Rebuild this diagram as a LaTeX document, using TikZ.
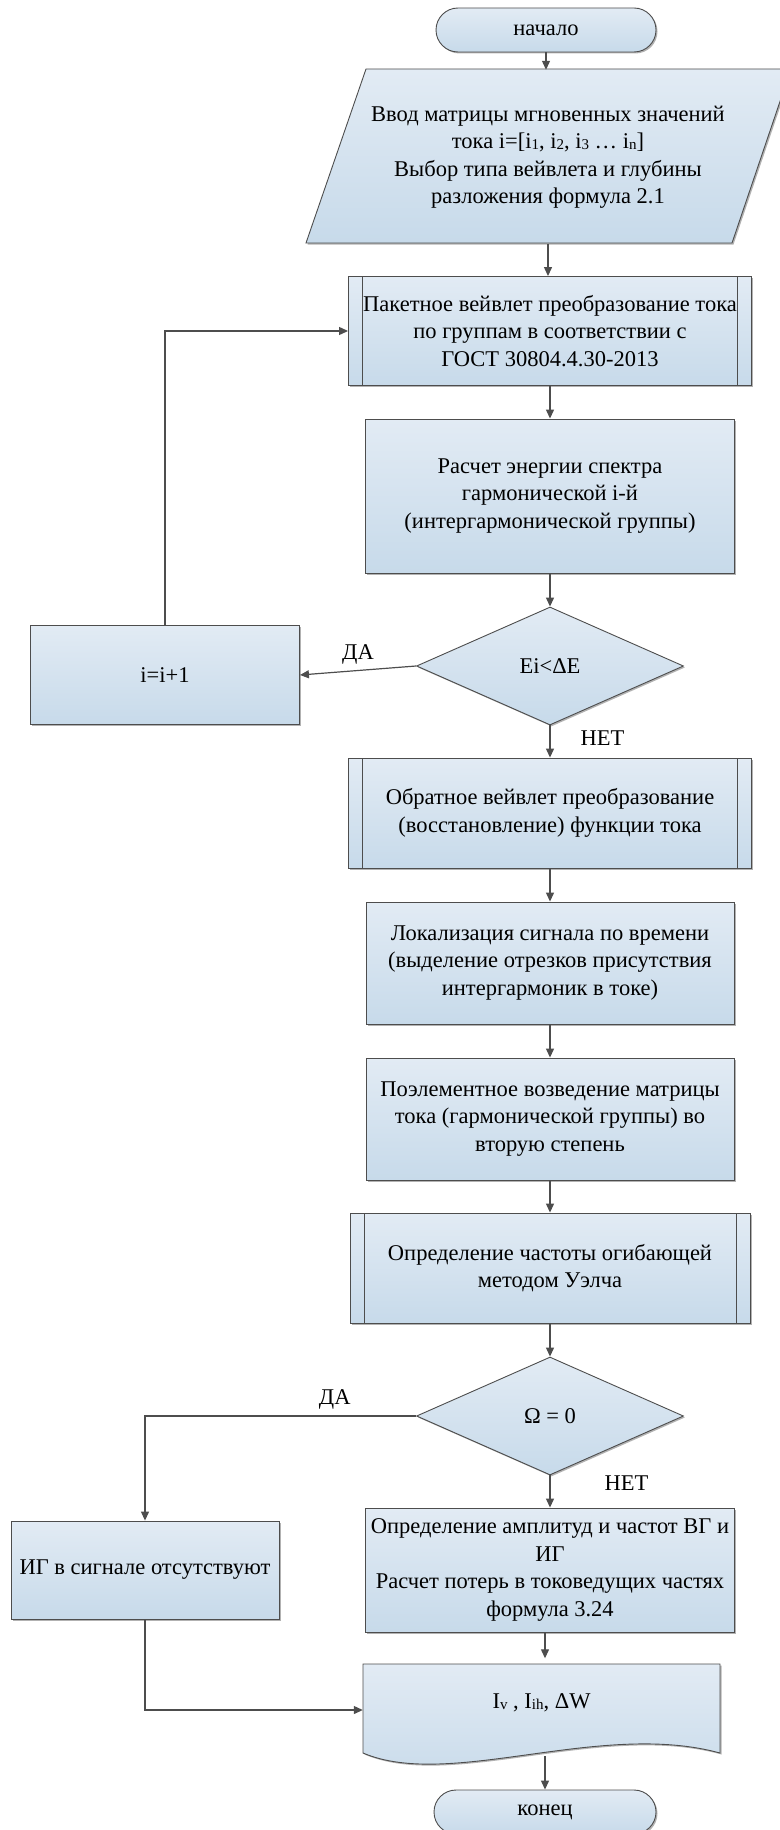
\documentclass[tikz,border=0pt]{standalone}
\usepackage{fontspec}
\setmainfont{Liberation Serif}
\usetikzlibrary{arrows.meta,shapes.geometric,shadows}

\definecolor{boxtop}{HTML}{E2EBF4}
\definecolor{boxbot}{HTML}{C7DAEA}
\definecolor{edgegray}{HTML}{4D4D4D}
\newcommand{\subidx}[1]{\raisebox{-0.08ex}{\fontsize{15}{15}\selectfont #1}}

\begin{document}
\begin{tikzpicture}[
        x=1pt, y=1pt,
        every node/.style={font=\fontsize{22.5}{27.5}\selectfont, align=center},
        shapefill/.style={
            top color=boxtop,
            bottom color=boxbot,
            draw=edgegray,
            line width=0.9pt,
            drop shadow={shadow xshift=1.5pt, shadow yshift=-1.5pt, opacity=0.3, fill=black}
        },
        term/.style={
            shapefill,
            rectangle,
            rounded corners=22pt,
            minimum width=220pt,
            minimum height=44pt,
            inner sep=0pt
        },
        proc/.style={
            shapefill,
            rectangle,
            inner sep=0pt
        },
        subproc/.style={
            proc,
            path picture={
                \draw[edgegray, line width=0.9pt]
                    ([xshift=14pt]path picture bounding box.north west) -- ([xshift=14pt]path picture bounding box.south west)
                    ([xshift=-14pt]path picture bounding box.north east) -- ([xshift=-14pt]path picture bounding box.south east);
            }
        },
        cond/.style={
            shapefill,
            diamond,
            minimum width=267pt,
            minimum height=118pt,
            inner sep=0pt
        },
        arrow/.style={-{Triangle[length=9pt, width=8pt]}, draw=edgegray, line width=1.2pt},
        yesno/.style={inner sep=2pt}
    ]
    \useasboundingbox (0,0) rectangle (779,-1830);

    % Start and input
    \node[term] (start) at (546,-30) {начало};

    \path[shapefill] (306,-243) -- (732,-243) -- (791,-69) -- (366,-69) -- cycle;
    \node[minimum width=426pt, minimum height=174pt, inner sep=0pt] (input) at (548,-157)
        {Ввод матрицы мгновенных значений\\
         тока i=[i\subidx{1}, i\subidx{2}, i\subidx{3} … i\subidx{n}]\\
         Выбор типа вейвлета и глубины\\
         разложения формула 2.1};
    \draw[arrow] (start.south) -- (start.south |- input.north);

    % Transform loop
    \node[subproc, minimum width=403pt, minimum height=109pt] (pack) at (550,-331)
        {Пакетное вейвлет преобразование тока\\ по группам в соответствии с\\ ГОСТ 30804.4.30-2013};
    \draw[arrow] (input.south) -- (input.south |- pack.north);

    \node[proc, minimum width=369pt, minimum height=154pt] (energy) at (550,-496)
        {Расчет энергии спектра\\ гармонической i-й\\ (интергармонической группы)};
    \draw[arrow] (pack) -- (energy);

    \node[cond] (dec1) at (550,-666) {Ei<ΔE};
    \draw[arrow] (energy) -- (dec1);

    \node[proc, minimum width=269pt, minimum height=99pt] (incr) at (165,-675) {i=i+1};
    \draw[arrow] (dec1.west) -- node[yesno, above=4pt] {ДА} (incr.east);
    \draw[arrow] (incr.north) |- (pack.west);

    % Signal processing
    \node[subproc, minimum width=403pt, minimum height=110pt] (inverse) at (550,-813)
        {Обратное вейвлет преобразование\\ (восстановление) функции тока};
    \draw[arrow] (dec1.south) -- node[yesno, pos=0.4, anchor=west, xshift=28pt] {НЕТ} (inverse.north);

    \node[proc, minimum width=368pt, minimum height=122pt] (local) at (550,-963)
        {Локализация сигнала по времени\\ (выделение отрезков присутствия\\ интергармоник в токе)};
    \draw[arrow] (inverse) -- (local);

    \node[proc, minimum width=368pt, minimum height=122pt] (square) at (550,-1119)
        {Поэлементное возведение матрицы\\ тока (гармонической группы) во\\ вторую степень};
    \draw[arrow] (local) -- (square);

    \node[subproc, minimum width=400pt, minimum height=110pt] (welch) at (550,-1268)
        {Определение частоты огибающей\\ методом Уэлча};
    \draw[arrow] (square) -- (welch);

    \node[cond] (dec2) at (550,-1416) {Ω = 0};
    \draw[arrow] (welch) -- (dec2);

    % Results
    \node[proc, minimum width=268pt, minimum height=98pt] (absent) at (145,-1570)
        {ИГ в сигнале отсутствуют};
    \draw[arrow] (dec2.west) -| node[yesno, pos=0.15, above=4pt] {ДА} (absent.north);

    \node[proc, minimum width=369pt, minimum height=124pt] (calc) at (550,-1570)
        {Определение амплитуд и частот ВГ и\\ ИГ\\ Расчет потерь в токоведущих частях\\ формула 3.24};
    \draw[arrow] (dec2.south) -- node[yesno, pos=0.25, anchor=west, xshift=52pt] {НЕТ} (calc.north);

    \path[shapefill] (363,-1664) -- (720,-1664) -- (720,-1753)
        .. controls (600,-1720) and (450,-1790) .. (363,-1753) -- cycle;
    \node[minimum width=357pt, minimum height=89pt, inner sep=0pt] (result) at (541.5,-1703)
        {I\subidx{v} , I\subidx{ih}, ΔW};

    \node[term, minimum width=222pt] (stop) at (545,-1812) {конец};
    \coordinate (resout) at (545,-1756);

    \draw[arrow] (calc.south -| stop.north) -- (stop.north |- result.north);
    \draw[arrow] (absent.south) |- ([yshift=-7pt]result.west);
    \draw[arrow] (resout) -- (stop.north);

\end{tikzpicture}
\end{document}
